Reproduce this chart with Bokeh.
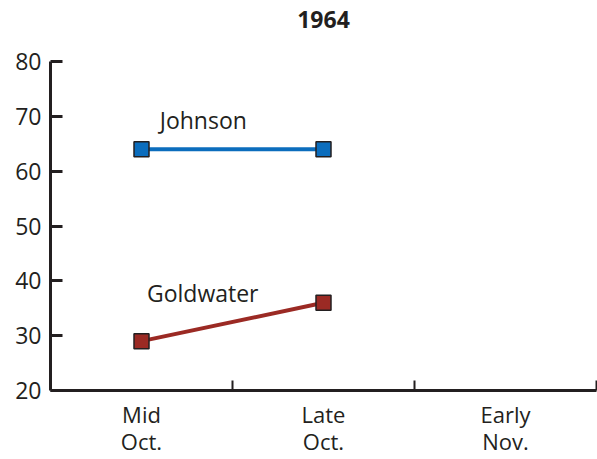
from bokeh.plotting import figure
from bokeh.models import Range1d, LinearAxis, FixedTicker, Label
from bokeh.embed import file_html
from bokeh.resources import INLINE

periods = ["Mid\nOct.", "Late\nOct.", "Early\nNov."]
period_pos = [0.5, 1.5, 2.5]
period_edges = [1, 2, 3]
johnson = [64, 64]
goldwater = [29, 36]
poll_x = [0.5, 1.5]
y_ticks = [20, 30, 40, 50, 60, 70, 80]
title_text = "1964"
series_names = ["Johnson", "Goldwater"]

FONT = "Open Sans"
INK = "#231f20"
BLUE = "#0b6dbd"
RED = "#9b2a24"

p = figure(width=597, height=459, output_backend="svg", toolbar_location=None,
           x_range=Range1d(0, 3), y_range=Range1d(20, 80),
           x_axis_type=None, y_axis_type=None,
           min_border_left=50, min_border_right=1, min_border_top=61, min_border_bottom=69)
p.outline_line_color = None
p.xgrid.visible = False
p.ygrid.visible = False

# title as the label of a bare top axis
tax = LinearAxis(ticker=FixedTicker(ticks=[]))
tax.axis_line_color = None
tax.major_tick_line_color = None
tax.minor_tick_line_color = None
tax.axis_label = title_text
tax.axis_label_text_font = FONT
tax.axis_label_text_font_size = "23px"
tax.axis_label_text_font_style = "bold"
tax.axis_label_text_color = INK
tax.axis_label_standoff = 34
p.add_layout(tax, "above")

yax = LinearAxis(ticker=FixedTicker(ticks=y_ticks))
yax.major_tick_in = 12
yax.major_tick_out = 0
yax.minor_tick_line_color = None
yax.axis_line_width = 3
yax.axis_line_color = INK
yax.major_tick_line_width = 3
yax.major_tick_line_color = INK
yax.major_label_text_font = FONT
yax.major_label_text_font_size = "23px"
yax.major_label_text_color = INK
yax.major_label_standoff = 9
p.add_layout(yax, "left")

xax = LinearAxis(ticker=FixedTicker(ticks=period_edges))
xax.major_tick_in = 10
xax.major_tick_out = 0
xax.minor_tick_line_color = None
xax.axis_line_width = 3
xax.axis_line_color = INK
xax.major_tick_line_width = 2
xax.major_tick_line_color = INK
xax.major_label_text_font_size = "0px"
xax.major_label_text_color = None
xax.major_label_standoff = 0
p.add_layout(xax, "below")

lax = LinearAxis(ticker=FixedTicker(ticks=period_pos))
lax.axis_line_color = None
lax.major_tick_line_color = None
lax.minor_tick_line_color = None
lax.major_label_overrides = {pos: lab for pos, lab in zip(period_pos, periods)}
lax.major_label_text_font = FONT
lax.major_label_text_font_size = "22px"
lax.major_label_text_color = INK
lax.major_label_text_line_height = 0.92
lax.major_label_standoff = 2
p.add_layout(lax, "below")

p.line(poll_x, johnson, line_color=BLUE, line_width=4)
p.scatter(poll_x, johnson, marker="square", size=15, fill_color=BLUE, line_color=INK, line_width=1.5)
p.line(poll_x, goldwater, line_color=RED, line_width=4)
p.scatter(poll_x, goldwater, marker="square", size=15, fill_color=RED, line_color=INK, line_width=1.5)

label_pos = [(0.6, 69.3), (0.53, 37.8)]
for name, (lx, ly) in zip(series_names, label_pos):
    p.add_layout(Label(x=lx, y=ly, text=name, text_font=FONT, text_font_size="23px",
                       text_color=INK, text_baseline="middle", text_align="left"))

open("out.html", "w").write(file_html(p, INLINE))
